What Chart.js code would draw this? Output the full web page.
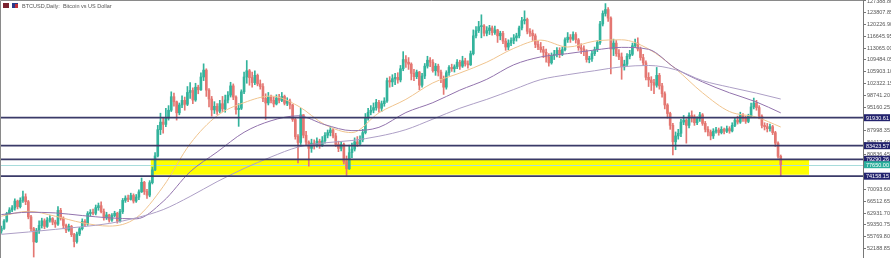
<!DOCTYPE html>
<html><head><meta charset="utf-8">
<script src="https://cdn.jsdelivr.net/npm/chart.js@4.4.1/dist/chart.umd.min.js"></script>
<style>html,body{margin:0;padding:0;background:#fff;overflow:hidden}#wrap{width:891px;height:258px;position:relative}</style>
</head><body><div id="wrap"><canvas id="c" width="891" height="258"></canvas></div>
<script>
// ---- data (prices in thousands of USD) ----
const title = 'BTCUSD,Daily:  Bitcoin vs US Dollar';
const firstOpen = 57.5;
const closes = [
58.3,60.5,62.8,63.9,64.5,66.6,64.9,66.8,67.9,66.4,
61.8,58.2,54.2,57.6,59.2,60.6,58.9,60.8,61.3,60.2,
59.6,63.8,61.4,59.2,57.8,58.9,56.4,54.3,56.6,58.2,
60.4,59.6,62.8,63.2,62.9,64.6,65.2,63.4,61.5,62.4,
60.8,62.2,62.9,60.5,63.4,66.8,67.5,67.1,68.3,66.6,
67.8,69.4,72.3,69.5,68.4,72.2,76.1,80.3,88.3,90.6,
89.9,91.8,94.2,98.3,96.8,93.4,95.8,97.2,96.0,99.6,
100.2,97.3,101.2,100.4,104.3,106.4,100.3,97.6,94.3,95.4,
93.9,96.2,94.6,97.3,98.8,101.6,98.2,94.4,94.8,99.8,
104.3,106.2,104.1,102.6,104.8,102.2,101.4,97.8,96.4,98.2,
97.2,96.1,97.9,97.2,98.4,96.3,97.0,95.8,91.4,86.2,
84.4,92.8,86.6,84.5,82.6,84.2,83.6,84.8,83.4,84.9,
86.6,87.4,88.2,86.4,83.8,82.6,83.8,78.6,76.4,81.3,
82.4,84.6,83.9,85.2,87.4,91.8,93.6,94.2,95.0,96.6,
94.8,96.2,97.0,103.2,102.8,103.8,104.2,103.4,106.8,109.6,
108.8,108.2,105.4,104.4,105.8,101.8,104.6,107.6,109.4,108.8,
106.2,107.6,105.8,103.8,101.2,105.6,107.2,106.8,107.4,108.8,
107.6,109.2,108.3,108.0,111.4,116.8,118.4,119.6,119.8,117.6,
118.4,119.2,117.8,118.6,116.8,117.6,115.2,113.4,114.6,115.4,
116.2,116.8,119.2,121.4,121.8,118.2,117.6,116.8,114.2,113.4,
112.6,111.8,110.4,108.6,110.8,111.2,112.4,111.2,112.6,115.6,
116.4,115.8,117.2,115.6,113.2,112.8,112.2,109.6,109.8,111.4,
112.6,114.8,120.4,123.6,124.8,122.2,112.8,114.6,111.4,110.4,
107.4,108.2,110.6,111.2,113.8,114.6,112.8,110.2,108.6,104.2,
103.4,102.6,101.8,104.8,101.6,99.2,95.8,93.2,89.6,84.6,
86.4,87.2,90.6,91.2,89.6,92.6,92.2,90.4,91.6,92.8,
90.2,88.4,87.6,86.4,87.8,88.2,87.4,88.4,87.8,88.6,
87.9,89.6,91.2,90.6,92.6,91.8,90.8,92.4,95.2,96.4,
95.0,92.4,89.6,89.2,88.6,89.2,87.4,84.2,80.2,77.65];
const highs = [
59.0,61.0,63.2,64.6,65.2,67.3,66.9,67.6,69.6,68.8,
66.8,62.3,58.6,58.3,60.6,61.4,61.2,61.6,62.2,61.6,
60.8,64.9,64.4,61.8,59.6,59.6,59.2,56.8,57.2,58.6,
61.2,61.0,63.4,64.0,64.2,65.4,66.0,66.4,64.2,63.2,
62.6,62.8,63.5,63.2,64.1,67.4,68.2,68.4,69.0,68.8,
68.6,70.0,73.6,72.6,70.2,72.8,76.9,81.3,89.6,93.3,
91.8,94.8,95.6,99.8,99.4,97.0,96.4,98.6,98.2,101.4,
102.6,101.0,102.4,101.8,105.6,108.3,106.8,100.8,98.4,96.8,
96.2,97.2,98.4,98.8,99.9,102.7,102.2,98.6,96.2,100.4,
105.8,109.3,106.6,105.8,106.2,105.2,103.4,102.3,99.2,99.6,
98.8,98.2,98.9,99.0,99.6,98.8,98.0,97.6,96.0,92.0,
86.8,94.8,92.9,87.8,84.9,85.4,85.2,85.8,85.4,86.2,
87.4,88.2,89.2,88.6,87.2,84.8,84.6,84.2,80.3,83.6,
84.2,85.8,86.2,86.4,88.4,93.2,94.8,95.6,96.4,97.5,
97.2,97.0,98.0,104.0,104.4,105.0,105.4,105.6,107.8,112.0,
110.8,110.2,108.6,106.6,106.4,106.0,105.4,108.4,110.6,110.2,
109.6,108.4,108.2,106.4,104.6,106.2,107.8,108.2,108.0,109.6,
109.4,110.6,110.0,109.2,112.2,118.6,119.6,121.2,123.2,120.2,
119.6,120.0,119.8,119.8,118.8,118.2,118.2,116.0,115.6,116.2,
117.2,117.6,119.8,122.4,124.4,122.2,119.0,118.6,117.4,115.2,
114.8,113.6,112.8,111.4,111.6,112.4,113.2,113.2,113.4,116.2,
117.8,117.2,118.0,117.8,116.0,114.4,113.8,112.6,110.6,112.2,
113.4,115.4,121.2,124.4,126.6,125.4,122.6,115.8,115.4,112.6,
111.6,109.4,111.4,112.4,114.6,115.8,116.2,113.4,111.2,109.2,
105.6,104.4,103.6,107.2,105.4,102.4,99.8,96.2,93.6,90.2,
87.6,88.4,91.4,92.6,91.6,93.4,94.0,92.8,92.2,93.6,
93.2,90.8,89.2,88.2,88.6,89.0,88.8,89.2,88.8,89.4,
89.2,90.4,91.8,92.4,93.6,93.2,92.4,93.0,96.4,97.9,
97.2,95.6,92.8,90.4,90.2,90.0,89.6,87.8,84.6,80.6];
const lows = [
56.8,58.0,60.2,62.5,63.4,63.8,64.2,64.5,66.2,65.5,
61.2,57.6,49.6,54.0,56.8,58.4,58.2,58.6,60.2,59.4,
58.6,59.2,60.8,58.2,57.0,57.4,55.8,52.7,53.8,56.1,
57.8,58.8,59.2,62.0,62.4,62.4,63.8,63.0,60.8,61.0,
60.2,60.4,61.8,59.9,60.2,62.8,66.2,66.4,66.9,66.0,
66.2,67.0,69.2,68.6,67.4,67.9,71.8,75.8,80.0,86.8,
87.2,89.2,91.2,93.8,95.4,91.2,92.8,95.0,94.2,95.6,
97.8,96.2,96.9,99.2,100.2,103.2,98.4,95.2,92.4,93.2,
92.9,93.4,93.8,93.6,96.4,98.2,97.4,93.0,89.3,94.4,
99.2,102.4,101.8,101.2,102.0,101.6,100.6,96.8,91.4,95.8,
96.4,95.2,95.8,96.4,96.8,95.8,95.6,94.6,90.8,85.4,
78.2,83.8,85.8,83.6,77.2,81.4,82.4,83.0,82.6,83.2,
84.2,85.8,86.4,85.8,83.2,81.6,81.8,77.9,74.4,76.2,
79.8,81.8,83.2,83.6,84.6,87.0,91.2,92.8,93.4,94.2,
93.6,93.8,95.4,96.6,101.2,101.4,102.0,102.4,102.8,106.2,
107.2,106.6,103.4,103.2,103.8,100.4,101.2,103.8,107.0,107.4,
105.8,104.8,104.6,102.6,99.0,100.6,104.8,106.0,105.8,106.8,
106.6,107.2,107.6,107.0,107.8,111.0,116.2,117.8,116.2,116.8,
116.8,117.2,117.0,117.2,114.8,115.6,114.4,112.4,112.6,113.8,
114.4,115.2,116.2,118.6,120.4,117.4,116.6,115.4,113.2,112.6,
111.8,110.2,108.8,107.6,108.2,109.6,110.4,110.2,110.8,112.2,
114.8,114.8,115.4,114.6,112.4,111.4,110.8,108.8,108.6,109.0,
110.8,112.0,114.2,119.8,122.8,121.2,105.2,110.8,110.6,109.6,
103.6,106.4,107.6,109.8,110.8,113.2,112.2,109.4,107.8,103.4,
101.4,100.2,99.2,101.2,100.6,98.2,94.6,91.8,88.4,80.6,
82.2,85.4,86.2,89.8,84.2,88.8,90.6,89.6,89.8,90.8,
89.6,87.6,86.4,85.2,85.6,87.2,86.6,87.0,87.0,87.4,
87.2,87.6,89.2,90.0,90.2,90.8,90.2,90.4,92.0,94.6,
94.2,91.6,88.8,88.2,87.6,87.8,86.8,83.2,79.6,74.2];
const emptySlots = 30;

// moving averages at sample bars
const maIdx  = [0,10,20,30,40,50,60,70,80,90,100,110,120,130,140,150,160,170,180,190,200,210,220,230,240,250,260,270,280,289];
const maFast = [62.0,63.5,62.0,60.0,59.0,61.5,71.0,84.0,92.5,96.5,98.5,95.5,89.8,87.4,93.4,97.5,102.5,105.5,108.8,113.0,115.5,113.4,115.2,115.6,112.8,106.8,99.5,93.8,92.1,89.1];
const maMid  = [62.5,63.2,63.0,62.2,61.5,61.2,66.5,75.5,81.5,87.5,91.0,92.5,89.8,88.0,89.0,93.5,96.5,100.3,103.6,108.0,110.4,111.4,112.5,113.3,112.7,106.9,102.8,99.5,96.7,93.4];
const maSlow = [56.5,57.2,58.0,58.8,59.8,61.5,64.0,68.0,72.5,76.5,80.0,83.0,84.3,85.0,86.3,88.3,91.5,94.8,97.5,100.5,103.5,105.0,106.2,107.4,107.8,106.5,103.2,101.2,99.4,97.6];

// price axis
const tickValues = [127388.80,123807.85,120226.90,116645.95,113065.00,109484.05,105903.10,102322.15,98741.20,95160.25,91579.30,87998.35,84417.40,80836.45,77255.50,73674.55,70093.60,66512.65,62931.70,59350.75,55769.80,52188.85];
const yMax = 127692.6, yMin = 49301.9;

// horizontal levels and support zone
const levelValues = [91930.61, 83423.57, 79290.26, 74158.15];
const zone = { fromBar: 55.4, toBar: 299.5, top: 79.08, bottom: 74.60 };

// ---- build ----
const K = 1000;
const N = closes.length;
const labels = Array.from({length: N + emptySlots}, (_, i) => i);
const opens = closes.map((c, i) => i === 0 ? firstOpen : closes[i - 1]);
const bull = '#33b39c', bear = '#e47772';
const colors = closes.map((c, i) => c >= opens[i] ? bull : bear);
const bodyData = closes.map((c, i) => [opens[i] * K, c * K]);
const wickData = closes.map((c, i) => [lows[i] * K, highs[i] * K]);
const lastPrice = closes[N - 1] * K;

function maSeries(vals) {
  const arr = new Array(N + emptySlots).fill(null);
  maIdx.forEach((ix, k) => { arr[ix] = vals[k] * K; });
  return arr;
}
const lineDs = (vals, color) => ({
  type: 'line', data: maSeries(vals), borderColor: color, borderWidth: 1,
  pointRadius: 0, spanGaps: true, cubicInterpolationMode: 'monotone', order: 0
});

const mt4 = {
  id: 'mt4',
  beforeDatasetsDraw(chart) {
    const {ctx, chartArea: a, scales: {x, y}} = chart;
    ctx.save();
    const x0 = x.getPixelForValue(zone.fromBar), x1 = x.getPixelForValue(zone.toBar);
    const y0 = y.getPixelForValue(zone.top * K), y1 = y.getPixelForValue(zone.bottom * K);
    ctx.fillStyle = '#ffff00';
    ctx.fillRect(x0, y0, x1 - x0, y1 - y0);
    const yp = Math.round(y.getPixelForValue(lastPrice)) + 0.5;
    ctx.strokeStyle = '#a8dcdc'; ctx.lineWidth = 1;
    ctx.beginPath(); ctx.moveTo(a.left, yp); ctx.lineTo(a.right, yp); ctx.stroke();
    ctx.restore();
  },
  afterDatasetsDraw(chart) {
    const {ctx, chartArea: a, scales: {y}} = chart;
    ctx.save();
    ctx.strokeStyle = '#3a3a68'; ctx.lineWidth = 1.8;
    levelValues.forEach(v => {
      const yp = y.getPixelForValue(v);
      ctx.beginPath(); ctx.moveTo(a.left, yp); ctx.lineTo(a.right, yp); ctx.stroke();
    });
    // frame
    ctx.strokeStyle = '#8a8a8a'; ctx.lineWidth = 1;
    ctx.beginPath(); ctx.moveTo(a.left + 0.5, a.bottom); ctx.lineTo(a.left + 0.5, a.top + 0.5); ctx.lineTo(a.right, a.top + 0.5); ctx.stroke();
    ctx.restore();
  },
  afterDraw(chart) {
    const {ctx, chartArea: a, scales: {y}} = chart;
    ctx.save();
    ctx.font = '5.5px "Liberation Sans", Arial, sans-serif';
    ctx.textBaseline = 'middle'; ctx.textAlign = 'left';
    const box = (v, bg) => {
      const yp = y.getPixelForValue(v);
      ctx.fillStyle = bg; ctx.fillRect(a.right + 1, yp - 3.5, 26, 7);
      ctx.fillStyle = '#ffffff'; ctx.fillText(v.toFixed(2), a.right + 3, yp + 0.3);
    };
    levelValues.forEach(v => box(v, '#23236e'));
    box(lastPrice, '#2aae9c');
    // title
    ctx.fillStyle = '#7a2230'; ctx.fillRect(3, 3, 6, 5);
    ctx.fillStyle = '#2a3a8a'; ctx.fillRect(12, 3, 6, 5);
    ctx.fillStyle = '#c0303a'; ctx.fillRect(15, 4, 3, 4);
    ctx.fillStyle = '#555555';
    ctx.fillText(title, 22, 6);
    ctx.restore();
  }
};

new Chart(document.getElementById('c'), {
  data: {
    labels,
    datasets: [
      lineDs(maSlow, '#ad9fc6'),
      lineDs(maMid, '#9273ad'),
      lineDs(maFast, '#f0c48e'),
      { type: 'bar', data: bodyData, backgroundColor: colors, barThickness: 2, minBarLength: 1, grouped: false, order: 1 },
      { type: 'bar', data: wickData, backgroundColor: colors, barThickness: 1, grouped: false, order: 2 }
    ]
  },
  options: {
    responsive: false, animation: false, devicePixelRatio: 1,
    layout: { padding: 0 },
    plugins: { legend: { display: false }, tooltip: { enabled: false }, title: { display: false } },
    scales: {
      x: { type: 'category', display: false, offset: true, grid: { display: false } },
      y: {
        position: 'right', min: yMin, max: yMax,
        afterBuildTicks: s => { s.ticks = tickValues.map(v => ({ value: v })); },
        afterFit: s => { s.width = 28; s.paddingTop = 0; s.paddingBottom = 0; },
        grid: { drawOnChartArea: false, drawTicks: true, tickLength: 3, color: '#777777' },
        border: { display: true, color: '#777777', width: 1 },
        ticks: { font: { family: 'Liberation Sans', size: 5.5 }, color: '#555555', padding: 1, autoSkip: false, maxRotation: 0,
                 callback: v => Number(v).toFixed(2) }
      }
    }
  },
  plugins: [mt4]
});
</script></body></html>
